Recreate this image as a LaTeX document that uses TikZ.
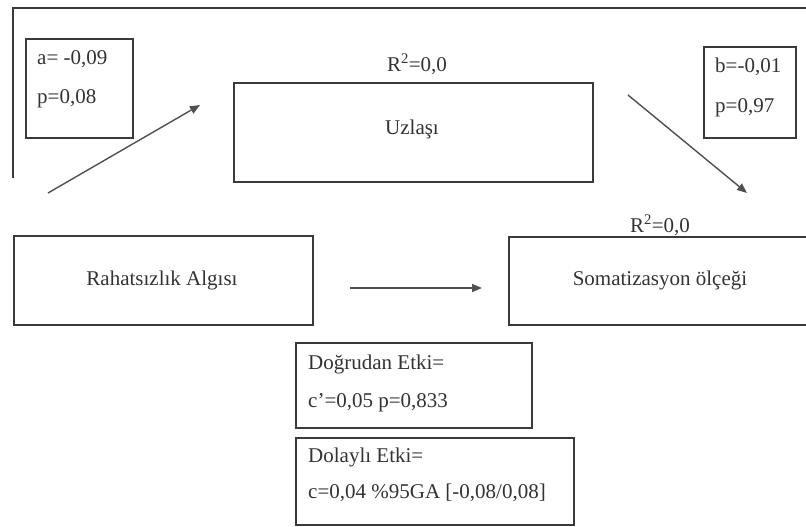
\documentclass[tikz,border=0pt]{standalone}
\usepackage{fontspec}
\setmainfont{Liberation Serif}
\usetikzlibrary{arrows.meta}
\definecolor{ink}{HTML}{333333}
\definecolor{edge}{HTML}{3A3A3A}
\definecolor{arr}{HTML}{505050}
\begin{document}
\begin{tikzpicture}[x=1pt,y=-1pt,
  box/.style={draw=edge,line width=2pt,rectangle,inner sep=0pt,anchor=north west,text=ink,font=\fontsize{21}{25}\selectfont},
  txt/.style={anchor=base west,inner sep=0pt,text=ink,font=\fontsize{21}{25}\selectfont},
  ctxt/.style={anchor=base,inner sep=0pt,text=ink,font=\fontsize{21}{25}\selectfont},
  path/.style={draw=arr,line width=1.4pt,-{Triangle[length=10pt,width=8pt]}},
  frame/.style={draw=edge,line width=2.5pt}]
\useasboundingbox (0,0) rectangle (806,527);
\clip (0,0) rectangle (806,527);
\fill[white] (0,0) rectangle (806,527);
% frame
\coordinate (f1) at (13,178);
\coordinate (f2) at (13,8);
\coordinate (f3) at (806,8);
\draw[frame] (f1) -- (f2) -- (f3);
% a box
\node[box,minimum width=107pt,minimum height=99pt] (abox) at (25,38) {};
\node[txt] (atext) at (37,64) {a= -0,09};
\node[txt] (aptext) at (37,103) {p=0,08};
% b box
\node[box,minimum width=92pt,minimum height=91pt] (bbox) at (703,46) {};
\node[txt] (btext) at (715,73) {b=-0,01};
\node[txt] (bptext) at (715,113) {p=0,97};
% mediator
\node[box,minimum width=359pt,minimum height=99pt] (uz) at (233,82) {};
\node[ctxt] (uztext) at (412,134) {Uzlaşı};
\node[ctxt] (r2a) at (417,71) {R\textsuperscript{2}=0,0};
% X and Y
\node[box,minimum width=299pt,minimum height=89pt] (x) at (13,235) {};
\node[ctxt] (xtext) at (162,285) {Rahatsızlık Algısı};
\node[box,minimum width=304pt,minimum height=88pt] (y) at (508,236) {};
\node[ctxt] (ytext) at (660,285) {Somatizasyon ölçeği};
\node[ctxt] (r2b) at (660,232) {R\textsuperscript{2}=0,0};
% effect boxes
\node[box,minimum width=236pt,minimum height=85pt] (direct) at (295,342) {};
\node[txt] (d1) at (308,369) {Doğrudan Etki=};
\node[txt] (d2) at (308,407) {c'=0,05 p=0,833};
\node[box,minimum width=278pt,minimum height=87pt] (indirect) at (295,437) {};
\node[txt] (i1) at (308,462) {Dolaylı Etki=};
\node[txt] (i2) at (308,498) {c=0,04 \%95GA [-0,08/0,08]};
% arrows
\coordinate (a1) at (48,193);
\coordinate (a2) at (200,105);
\coordinate (b1) at (628,95);
\coordinate (b2) at (747,193);
\coordinate (c1) at (350,288);
\coordinate (c2) at (482,288);
\draw[path] (a1) -- (a2);
\draw[path] (b1) -- (b2);
\draw[path] (c1) -- (c2);
\end{tikzpicture}
\end{document}
